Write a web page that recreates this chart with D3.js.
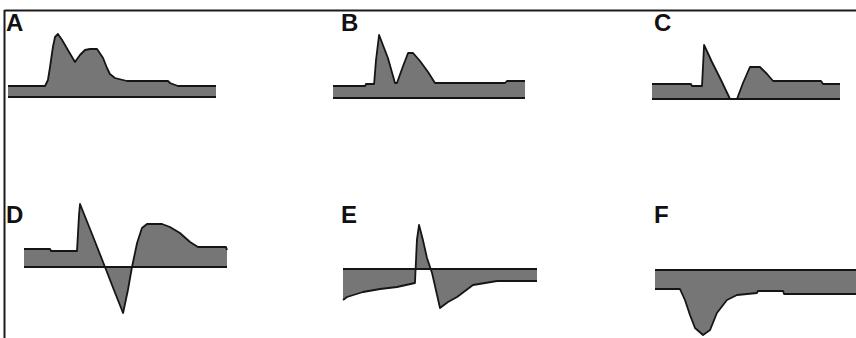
<!DOCTYPE html>
<html>
<head>
<meta charset="utf-8">
<script src="https://cdn.jsdelivr.net/npm/d3@7"></script>
<style>
  html, body { margin: 0; padding: 0; background: #fff; }
  svg { display: block; }
</style>
</head>
<body>
<svg id="chart"></svg>
<script>
// panel labels
const labels = ["A", "B", "C", "D", "E", "F"];

// time (0-100, % of trace) and amplitude (signal relative to baseline) per trace
const timeA = [0, 17.8, 19.2, 20.2, 21.6, 22.6, 24.0, 26.0, 28.8, 32.2, 34.6, 37.0, 39.4, 42.8, 45.7, 47.6, 49.0, 51.4, 57.2, 76.9, 77.9, 81.7, 100];
const ampA  = [1.1, 1.1, 1.7, 3.0, 5.0, 6.0, 6.3, 5.7, 4.7, 3.5, 4.2, 4.7, 4.8, 4.8, 3.9, 2.9, 2.3, 1.9, 1.6, 1.6, 1.4, 1.1, 1.1];

const timeB = [0, 16.7, 17.2, 21.4, 22.4, 24.0, 28.6, 32.3, 33.3, 36.5, 39.1, 41.7, 45.3, 49.5, 53.1, 89.6, 90.6, 100];
const ampB  = [1.2, 1.2, 1.4, 1.4, 3.8, 6.3, 4.0, 1.5, 1.5, 3.2, 4.5, 4.5, 3.7, 2.6, 1.5, 1.5, 1.7, 1.7];

const timeC = [0, 20.7, 21.3, 26.6, 27.7, 31.9, 36.7, 41.5, 45.2, 48.4, 52.1, 57.4, 61.2, 64.4, 89.9, 91.0, 100];
const ampC  = [1.5, 1.5, 1.3, 1.3, 5.4, 3.7, 1.9, 0, 0, 1.6, 3.2, 3.2, 2.5, 1.8, 1.8, 1.5, 1.5];

const timeD = [0, 12.8, 13.3, 26.1, 27.1, 27.6, 33.5, 39.9, 44.3, 48.8, 51.2, 53.2, 55.7, 58.1, 60.6, 68.0, 71.9, 76.8, 81.8, 85.7, 99.5, 100];
const ampD  = [1.8, 1.8, 1.6, 1.6, 5.2, 6.3, 3.3, 0, -2.3, -4.6, -2.3, 0, 2.4, 3.9, 4.3, 4.3, 4.0, 3.4, 2.5, 2.0, 2.0, 1.7];

const timeE = [0, 2.1, 10.3, 19.1, 27.8, 37.1, 38.1, 39.2, 41.2, 43.3, 45.9, 50.0, 54.1, 58.8, 62.9, 67.0, 73.2, 79.4, 100];
const ampE  = [-3.1, -2.8, -2.3, -2.0, -1.8, -1.4, 2.9, 4.4, 2.9, 1.1, -0.4, -3.9, -3.3, -2.8, -2.2, -1.6, -1.4, -1.2, -1.2];

const timeF = [0, 12.4, 14.9, 17.4, 19.9, 23.9, 27.4, 30.8, 35.8, 40.8, 50.7, 51.2, 63.7, 64.2, 100];
const ampF  = [-1.9, -1.9, -3.0, -4.5, -5.8, -6.5, -6.0, -4.3, -3.0, -2.5, -2.3, -2.1, -2.1, -2.4, -2.4];

const times = [timeA, timeB, timeC, timeD, timeE, timeF];
const amps = [ampA, ampB, ampC, ampD, ampE, ampF];

// layout of each panel: trace x extent, baseline y, label position
const layout = [
  { x0: 8,   x1: 216, base: 97,  lx: 6,   ly: 31 },
  { x0: 333, x1: 525, base: 98,  lx: 341, ly: 31 },
  { x0: 652, x1: 840, base: 99,  lx: 654, ly: 31 },
  { x0: 24,  x1: 227, base: 267, lx: 6,   ly: 223 },
  { x0: 343, x1: 537, base: 269, lx: 341, ly: 223 },
  { x0: 655, x1: 856, base: 270, lx: 654, ly: 223 },
];

const width = 856;
const height = 338;
const pxPerUnit = 10;

const svg = d3.select("#chart").attr("width", width).attr("height", height);

// frame (top and left edges)
svg.append("line")
  .attr("x1", 4.5).attr("x2", width)
  .attr("y1", 10.5).attr("y2", 10.5)
  .attr("stroke", "#1a1a1a").attr("stroke-width", 2);
svg.append("line")
  .attr("x1", 4.5).attr("x2", 4.5)
  .attr("y1", 10).attr("y2", height)
  .attr("stroke", "#1a1a1a").attr("stroke-width", 2);

labels.forEach((label, i) => {
  const L = layout[i];
  const data = times[i].map((t, j) => ({ t, a: amps[i][j] }));

  const x = d3.scaleLinear().domain([0, 100]).range([L.x0, L.x1]);
  const y = d3.scaleLinear().domain([-8, 8]).range([L.base + 8 * pxPerUnit, L.base - 8 * pxPerUnit]);

  const g = svg.append("g");

  g.append("path")
    .datum(data)
    .attr("fill", "#767676")
    .attr("d", d3.area().x(d => x(d.t)).y0(y(0)).y1(d => y(d.a)));

  // baseline
  g.append("line")
    .attr("x1", x(0)).attr("x2", x(100))
    .attr("y1", y(0)).attr("y2", y(0))
    .attr("stroke", "#151515").attr("stroke-width", 2);

  // signal outline
  g.append("path")
    .datum(data)
    .attr("fill", "none")
    .attr("stroke", "#151515")
    .attr("stroke-width", 1.8)
    .attr("stroke-linejoin", "round")
    .attr("d", d3.line().x(d => x(d.t)).y(d => y(d.a)));

  svg.append("text")
    .attr("x", L.lx).attr("y", L.ly)
    .attr("font-family", "Liberation Sans, Arial, sans-serif")
    .attr("font-weight", "bold")
    .attr("font-size", 24)
    .attr("fill", "#111")
    .text(label);
});
</script>
</body>
</html>
